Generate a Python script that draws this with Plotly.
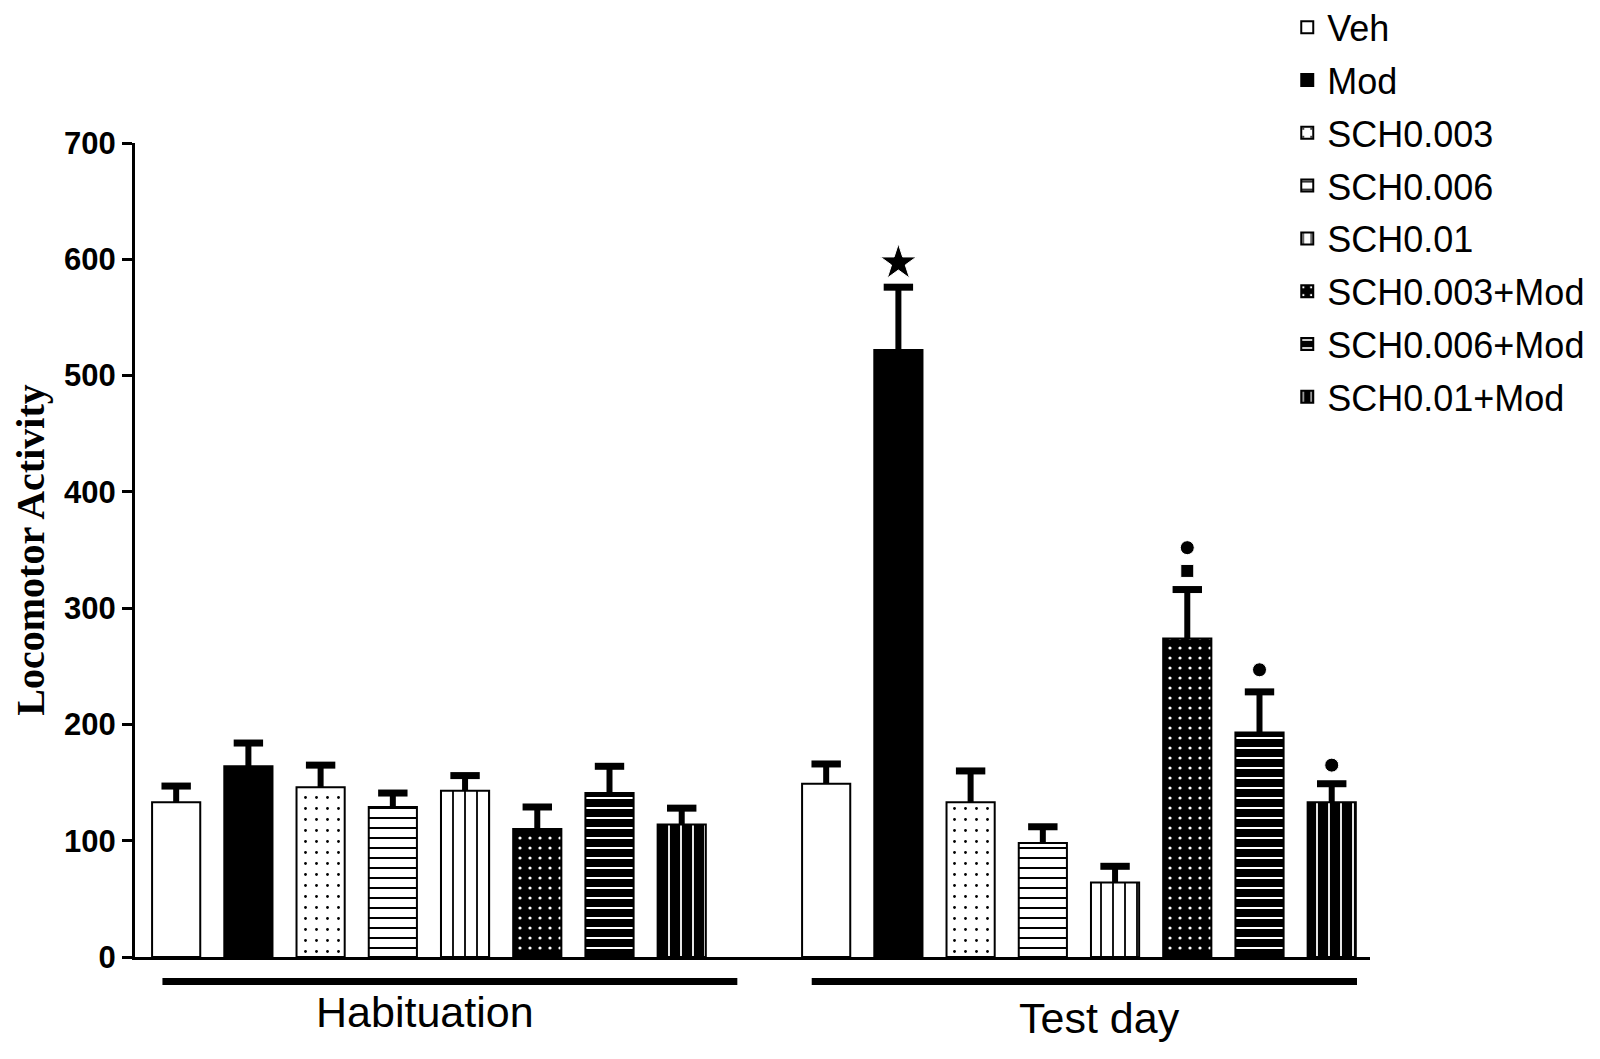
import plotly.graph_objects as go

# treatment groups, same order as the legend
treatments = ["Veh", "Mod", "SCH0.003", "SCH0.006", "SCH0.01",
              "SCH0.003+Mod", "SCH0.006+Mod", "SCH0.01+Mod"]

# mean and upper SEM
hab_mean = [133, 164, 146, 129, 143, 110, 141, 114]
hab_sem = [14, 20, 19, 12, 13, 19, 23, 14]
test_mean = [149, 522, 133, 98, 64, 274, 193, 133]
test_sem = [17, 54, 27, 14, 14, 42, 35, 16]

# x slots: habituation 0..7, test day 9..16
hab_x = list(range(8))
test_x = [9 + i for i in range(8)]

# significance marks above test-day bars
sig_x = [10, 14, 14, 15, 16]
sig_y = [597, 332, 352, 247, 165]
sig_symbol = ["star", "square", "circle", "circle", "circle"]
sig_size = [27, 13, 14, 14, 14]

group_labels = ["Habituation", "Test day"]
group_label_x = [3.44, 12.78]
group_label_y = [-0.068, -0.075]
group_line_x = [(-0.19, 7.77), (8.80, 16.35)]

# (bar colour, pattern shape, pattern colour, pattern size, solidity)
styles = [
    ("white", "", "black", 8, 0.3),
    ("black", "", "white", 8, 0.3),
    ("white", ".", "black", 11, 0.05),
    ("white", "-", "black", 10, 0.2),
    ("white", "|", "black", 12, 0.15),
    ("black", ".", "white", 10, 0.08),
    ("black", "-", "white", 10, 0.2),
    ("black", "|", "white", 12, 0.15),
]

fig = go.Figure()

for i, name in enumerate(treatments):
    col, shape, fg, psize, sol = styles[i]
    fig.add_trace(go.Bar(
        name=name,
        legendgroup=name,
        x=[hab_x[i], test_x[i]],
        y=[hab_mean[i], test_mean[i]],
        width=0.667,
        marker=dict(color=col, line=dict(color="black", width=2),
                    pattern=dict(shape=shape, fillmode="replace", bgcolor=col,
                                 fgcolor=fg, size=psize, solidity=sol)),
    ))

# upper-only error bars: stems + caps
all_x = hab_x + test_x
all_mean = hab_mean + test_mean
all_sem = hab_sem + test_sem
stem_x, stem_y = [], []
for x, m, s in zip(all_x, all_mean, all_sem):
    stem_x += [x, x, None]
    stem_y += [m, m + s, None]
fig.add_trace(go.Scatter(x=stem_x, y=stem_y, mode="lines", showlegend=False,
                         line=dict(color="black", width=6), hoverinfo="skip"))
fig.add_trace(go.Scatter(
    x=all_x, y=[m + s for m, s in zip(all_mean, all_sem)], mode="markers",
    showlegend=False, hoverinfo="skip",
    marker=dict(symbol="line-ew", size=21, opacity=1,
                line=dict(color="black", width=7)),
))

fig.add_trace(go.Scatter(
    x=sig_x, y=sig_y, mode="markers", showlegend=False,
    marker=dict(symbol=sig_symbol, size=sig_size, color="black", opacity=1),
))

for (x0, x1) in group_line_x:
    fig.add_shape(type="line", xref="x", yref="paper", x0=x0, x1=x1,
                  y0=-0.03, y1=-0.03, line=dict(color="black", width=7))

for lab, lx, ly in zip(group_labels, group_label_x, group_label_y):
    fig.add_annotation(x=lx, y=ly, xref="x", yref="paper", text=lab,
                       showarrow=False, yanchor="middle",
                       font=dict(size=43, color="black"))

fig.update_layout(
    width=1600, height=1059,
    plot_bgcolor="white", paper_bgcolor="white",
    font=dict(family="Liberation Sans, Arial", color="black"),
    barmode="overlay",
    margin=dict(l=127, r=238, t=135, b=110, autoexpand=False),
    legend=dict(x=0.933, y=1.179, xanchor="left", yanchor="top",
                font=dict(size=36), tracegroupgap=3, bgcolor="rgba(0,0,0,0)"),
)
fig.update_xaxes(range=[-0.57, 16.53], showline=True, linecolor="black",
                 linewidth=2.5, showgrid=False, zeroline=False,
                 showticklabels=False, ticks="")
fig.update_yaxes(range=[0, 700], dtick=100, showline=True, linecolor="black",
                 linewidth=3, ticks="outside", ticklen=10, tickwidth=3,
                 tickcolor="black", showgrid=False, zeroline=False,
                 tickfont=dict(size=31, weight="bold"),
                 title=dict(text="Locomotor Activity", standoff=14,
                            font=dict(family="Liberation Serif", size=40,
                                      weight="bold")))

fig.write_html("out.html")
